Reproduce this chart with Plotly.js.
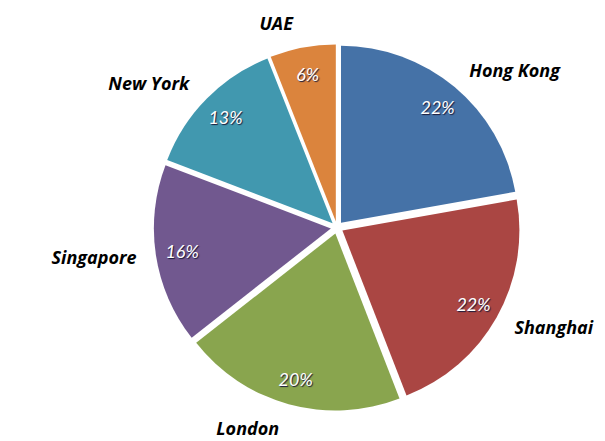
<!DOCTYPE html>
<html>
<head>
<meta charset="utf-8">
<script src="https://cdn.plot.ly/plotly-3.0.1.min.js"></script>
<style>
  html, body { margin: 0; padding: 0; background: #fff; }
  #chart { width: 605px; height: 441px; }
</style>
</head>
<body>
<div id="chart"></div>
<script>
// slice data, clockwise from 12 o'clock
const cities = ['Hong Kong', 'Shanghai', 'London', 'Singapore', 'New York', 'UAE'];
const shares = [22.2, 21.9, 20.3, 16.4, 13.2, 6.0];
const sliceColors = ['#4572A7', '#AA4643', '#89A54E', '#71588F', '#4198AF', '#DB843D'];

const W = 605, H = 441;
const CX = 337, CY = 227.5;   // pie centre in pixels
const PULL = 0.035;
const pulls = cities.map(() => PULL);

// paper domain for a pie of radius r centred on (CX, CY)
function domainFor(r) {
    const half = r * (1 + PULL);
    return {
        x: [(CX - half) / W, (CX + half) / W],
        y: [(H - CY - half) / H, (H - CY + half) / H]
    };
}

const baseTrace = {
    type: 'pie',
    labels: cities,
    values: shares,
    sort: false,
    direction: 'clockwise',
    rotation: 0,
    pull: pulls,
    hoverinfo: 'skip',
    showlegend: false
};

// coloured slices, no text
var slices = Object.assign({}, baseTrace, {
    domain: domainFor(177),
    marker: { colors: sliceColors, line: { width: 0 } },
    textinfo: 'none'
});

// transparent ring, only to place the percentages near the rim
var percents = Object.assign({}, baseTrace, {
    domain: domainFor(177),
    hole: 0.7,
    marker: { colors: cities.map(() => 'rgba(0,0,0,0)'), line: { width: 0 } },
    texttemplate: '%{percent:.0%}',
    textposition: 'inside',
    insidetextorientation: 'horizontal',
    textfont: {
        family: 'Lato, "Open Sans", sans-serif',
        size: 18,
        color: '#fff',
        style: 'italic',
        shadow: '1px 1px 1px #1a1a3a'
    }
});

// larger transparent pie, city names outside of it
var names = Object.assign({}, baseTrace, {
    domain: domainFor(190),
    marker: { colors: cities.map(() => 'rgba(0,0,0,0)'), line: { width: 0 } },
    textinfo: 'label',
    textposition: 'outside',
    outsidetextfont: {
        family: '"Open Sans", Lato, sans-serif',
        size: 18,
        color: '#000',
        weight: 'bold',
        style: 'italic'
    }
});

var layout = {
    width: W,
    height: H,
    margin: { l: 0, r: 0, t: 0, b: 0 },
    paper_bgcolor: '#fff',
    plot_bgcolor: '#fff',
    showlegend: false
};

Plotly.newPlot('chart', [slices, percents, names], layout, { displayModeBar: false, staticPlot: true });
</script>
</body>
</html>
